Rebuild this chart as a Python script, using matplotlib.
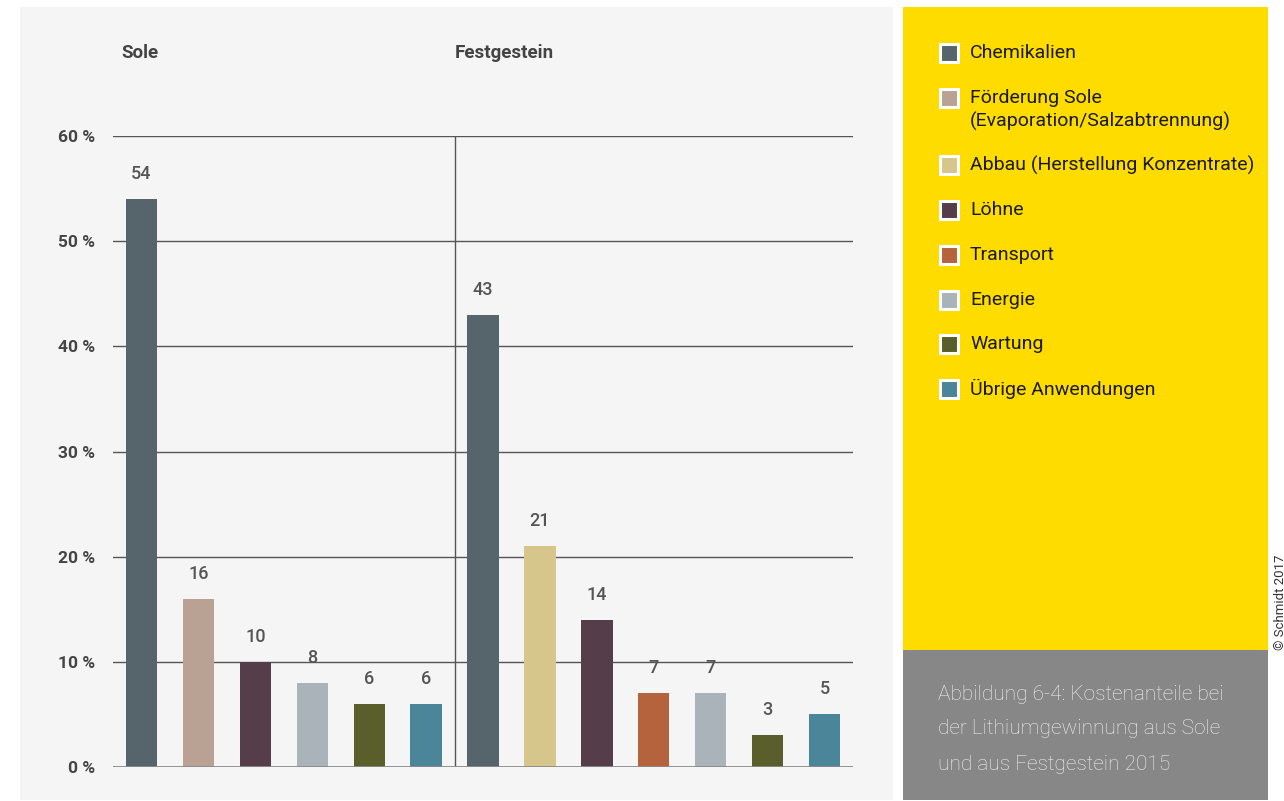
import matplotlib
matplotlib.use("Agg")
import matplotlib.pyplot as plt
import matplotlib.patches as mpatches
import numpy as np

plt.rcParams["font.family"] = ["Roboto", "DejaVu Sans"]

# ---- data ----
categories = ["Chemikalien", "Förderung Sole\n(Evaporation/Salzabtrennung)",
              "Abbau (Herstellung Konzentrate)", "Löhne", "Transport",
              "Energie", "Wartung", "Übrige Anwendungen"]
colors = ["#56656c", "#b9a294", "#d7c68b", "#553e49", "#b5633c",
          "#a9b3b9", "#5a5e2a", "#4a8599"]

sole_cats = ["Chemikalien", "Förderung Sole\n(Evaporation/Salzabtrennung)",
             "Löhne", "Energie", "Wartung", "Übrige Anwendungen"]
sole_vals = [54, 16, 10, 8, 6, 6]
fest_cats = ["Chemikalien", "Abbau (Herstellung Konzentrate)", "Löhne",
             "Transport", "Energie", "Wartung", "Übrige Anwendungen"]
fest_vals = [43, 21, 14, 7, 7, 3, 5]
yticks = [0, 10, 20, 30, 40, 50, 60]

caption = ["Abbildung 6-4: Kostenanteile bei",
           "der Lithiumgewinnung aus Sole",
           "und aus Festgestein 2015"]

W, H = 1284, 801
fig = plt.figure(figsize=(W / 100, H / 100), dpi=100)
fig.patch.set_facecolor("white")

# background panels (pixel coordinates)
bg = fig.add_axes([0, 0, 1, 1], zorder=0)
bg.set_xlim(0, W); bg.set_ylim(H, 0); bg.axis("off")
bg.add_patch(mpatches.Rectangle((20, 7), 873, 793, fc="#f5f5f5", ec="none"))
bg.add_patch(mpatches.Rectangle((903, 7), 365, 643, fc="#ffdc00", ec="none"))
bg.add_patch(mpatches.Rectangle((903, 650), 365, 150, fc="#878787", ec="none"))

# legend
leg_y = [53, 98, 165, 210, 255, 300, 344, 389]
for cat, col, y in zip(categories, colors, leg_y):
    bg.add_patch(mpatches.Rectangle((940, y - 9), 18, 18, fc=col, ec="white",
                                    lw=2.2, zorder=3))
    parts = cat.split("\n")
    bg.text(970, y, parts[0], ha="left", va="center", fontsize=14,
            color="#1a1a1a")
    if len(parts) > 1:
        bg.text(970, y + 23, parts[1], ha="left", va="center", fontsize=14,
                color="#1a1a1a")

for i, line in enumerate(caption):
    bg.text(938, 694 + i * 35, line, ha="left", va="center", fontsize=15,
            color="#f0f0f0", fontweight="light")

bg.text(1280, 650, "© Schmidt 2017", rotation=90, ha="center", va="bottom",
        fontsize=9.5, color="#333333")

# ---- chart ----
ax = fig.add_axes([113 / W, (H - 767) / H, 740 / W, 631 / H], zorder=1)
ax.patch.set_alpha(0)
cats = sole_cats + fest_cats
vals = sole_vals + fest_vals
x = np.arange(len(vals))
cmap = dict(zip(categories, colors))
bars = ax.bar(x, vals, width=0.55, color=[cmap[c] for c in cats], zorder=3)
for b, v in zip(bars, vals):
    ax.annotate(str(v), (b.get_x() + b.get_width() / 2, v), xytext=(0, 18),
                textcoords="offset points", ha="center", va="center",
                fontsize=13, color="#555555", fontweight="medium")

ax.set_xlim(-0.5, len(vals) - 0.5)
ax.set_ylim(0, 60)
ax.set_yticks(yticks)
ax.set_yticklabels([f"{t} %" for t in yticks], fontsize=12.5, color="#444444",
                   fontweight="bold")
ax.tick_params(axis="y", length=0, pad=13)
ax.set_xticks([])
for s in ax.spines.values():
    s.set_visible(False)
for t in yticks[1:]:
    ax.axhline(t, color="#555555", lw=1, zorder=1)
ax.axhline(0, color="#8a8a8a", lw=2, zorder=4)
split = len(sole_vals) - 0.5
ax.plot([split, split], [0, 60], color="#555555", lw=1, zorder=1)

ax.text(-0.03, 1.1315, "Sole", transform=ax.get_xaxis_transform(), ha="center",
        va="center", fontsize=13.5, fontweight="bold", color="#444444")
ax.text(split, 1.1315, "Festgestein", transform=ax.get_xaxis_transform(),
        ha="left", va="center", fontsize=13.5, fontweight="bold", color="#444444")

fig.savefig("out.png", dpi=100, facecolor="white")
